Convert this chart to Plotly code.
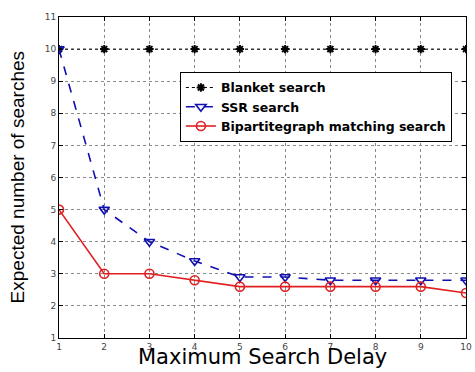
import plotly.graph_objects as go

delay = [1, 2, 3, 4, 5, 6, 7, 8, 9, 10]
blanket = [10, 10, 10, 10, 10, 10, 10, 10, 10, 10]
ssr = [10, 5, 4, 3.4, 2.9, 2.9, 2.8, 2.8, 2.8, 2.8]
bipartite = [5, 3, 3, 2.8, 2.6, 2.6, 2.6, 2.6, 2.6, 2.4]

x_title = "Maximum Search Delay"
y_title = "Expected number of searches"

fig = go.Figure()
fig.add_trace(go.Scatter(
    x=delay, y=blanket, name="Blanket search", mode="lines+markers",
    line=dict(color="black", width=1, dash="dot"),
    marker=dict(symbol="asterisk", size=7, color="black", line=dict(color="black", width=2)),
))
fig.add_trace(go.Scatter(
    x=delay, y=ssr, name="SSR search", mode="lines+markers",
    line=dict(color="#1010b0", width=1.6, dash="dash"),
    marker=dict(symbol="triangle-down-open", size=9, color="#1010b0", line=dict(width=1.6)),
))
fig.add_trace(go.Scatter(
    x=delay, y=bipartite, name="Bipartitegraph matching search", mode="lines+markers",
    line=dict(color="#e02020", width=1.6),
    marker=dict(symbol="circle-open", size=9, color="#e02020", line=dict(width=1.6)),
))

axis_common = dict(
    showgrid=True, gridcolor="#8a8a8a", griddash="dot", gridwidth=1,
    showline=True, linecolor="black", linewidth=1, mirror="ticks",
    ticks="inside", ticklen=4, tickcolor="black",
    tickfont=dict(family="DejaVu Sans, Arial", size=9, color="#444444"),
    zeroline=False, automargin=False,
)

fig.update_layout(
    width=475, height=372,
    margin=dict(l=59, r=9, t=17, b=34),
    paper_bgcolor="white", plot_bgcolor="white",
    xaxis=dict(range=[1, 10], tickvals=delay, **axis_common),
    yaxis=dict(range=[1, 11], dtick=1, **axis_common),
    legend=dict(x=0.297, y=0.829, xanchor="left", yanchor="top",
                bgcolor="white", bordercolor="black", borderwidth=1,
                font=dict(family="DejaVu Sans, Arial", size=12.5, color="black", weight="bold"),
                tracegroupgap=0, itemwidth=30),
    showlegend=True,
)

# axis titles placed as paper-anchored annotations
fig.add_annotation(
    text=x_title, xref="paper", yref="paper", x=0.5, y=-0.104,
    xanchor="center", yanchor="bottom", showarrow=False,
    font=dict(family="DejaVu Sans, Arial", size=21, color="black"),
)
fig.add_annotation(
    text=y_title, xref="paper", yref="paper", x=-0.101, y=0.5,
    xanchor="center", yanchor="middle", textangle=-90, showarrow=False,
    font=dict(family="Liberation Sans, Arial", size=19, color="black"),
)

fig.write_html("out.html")
